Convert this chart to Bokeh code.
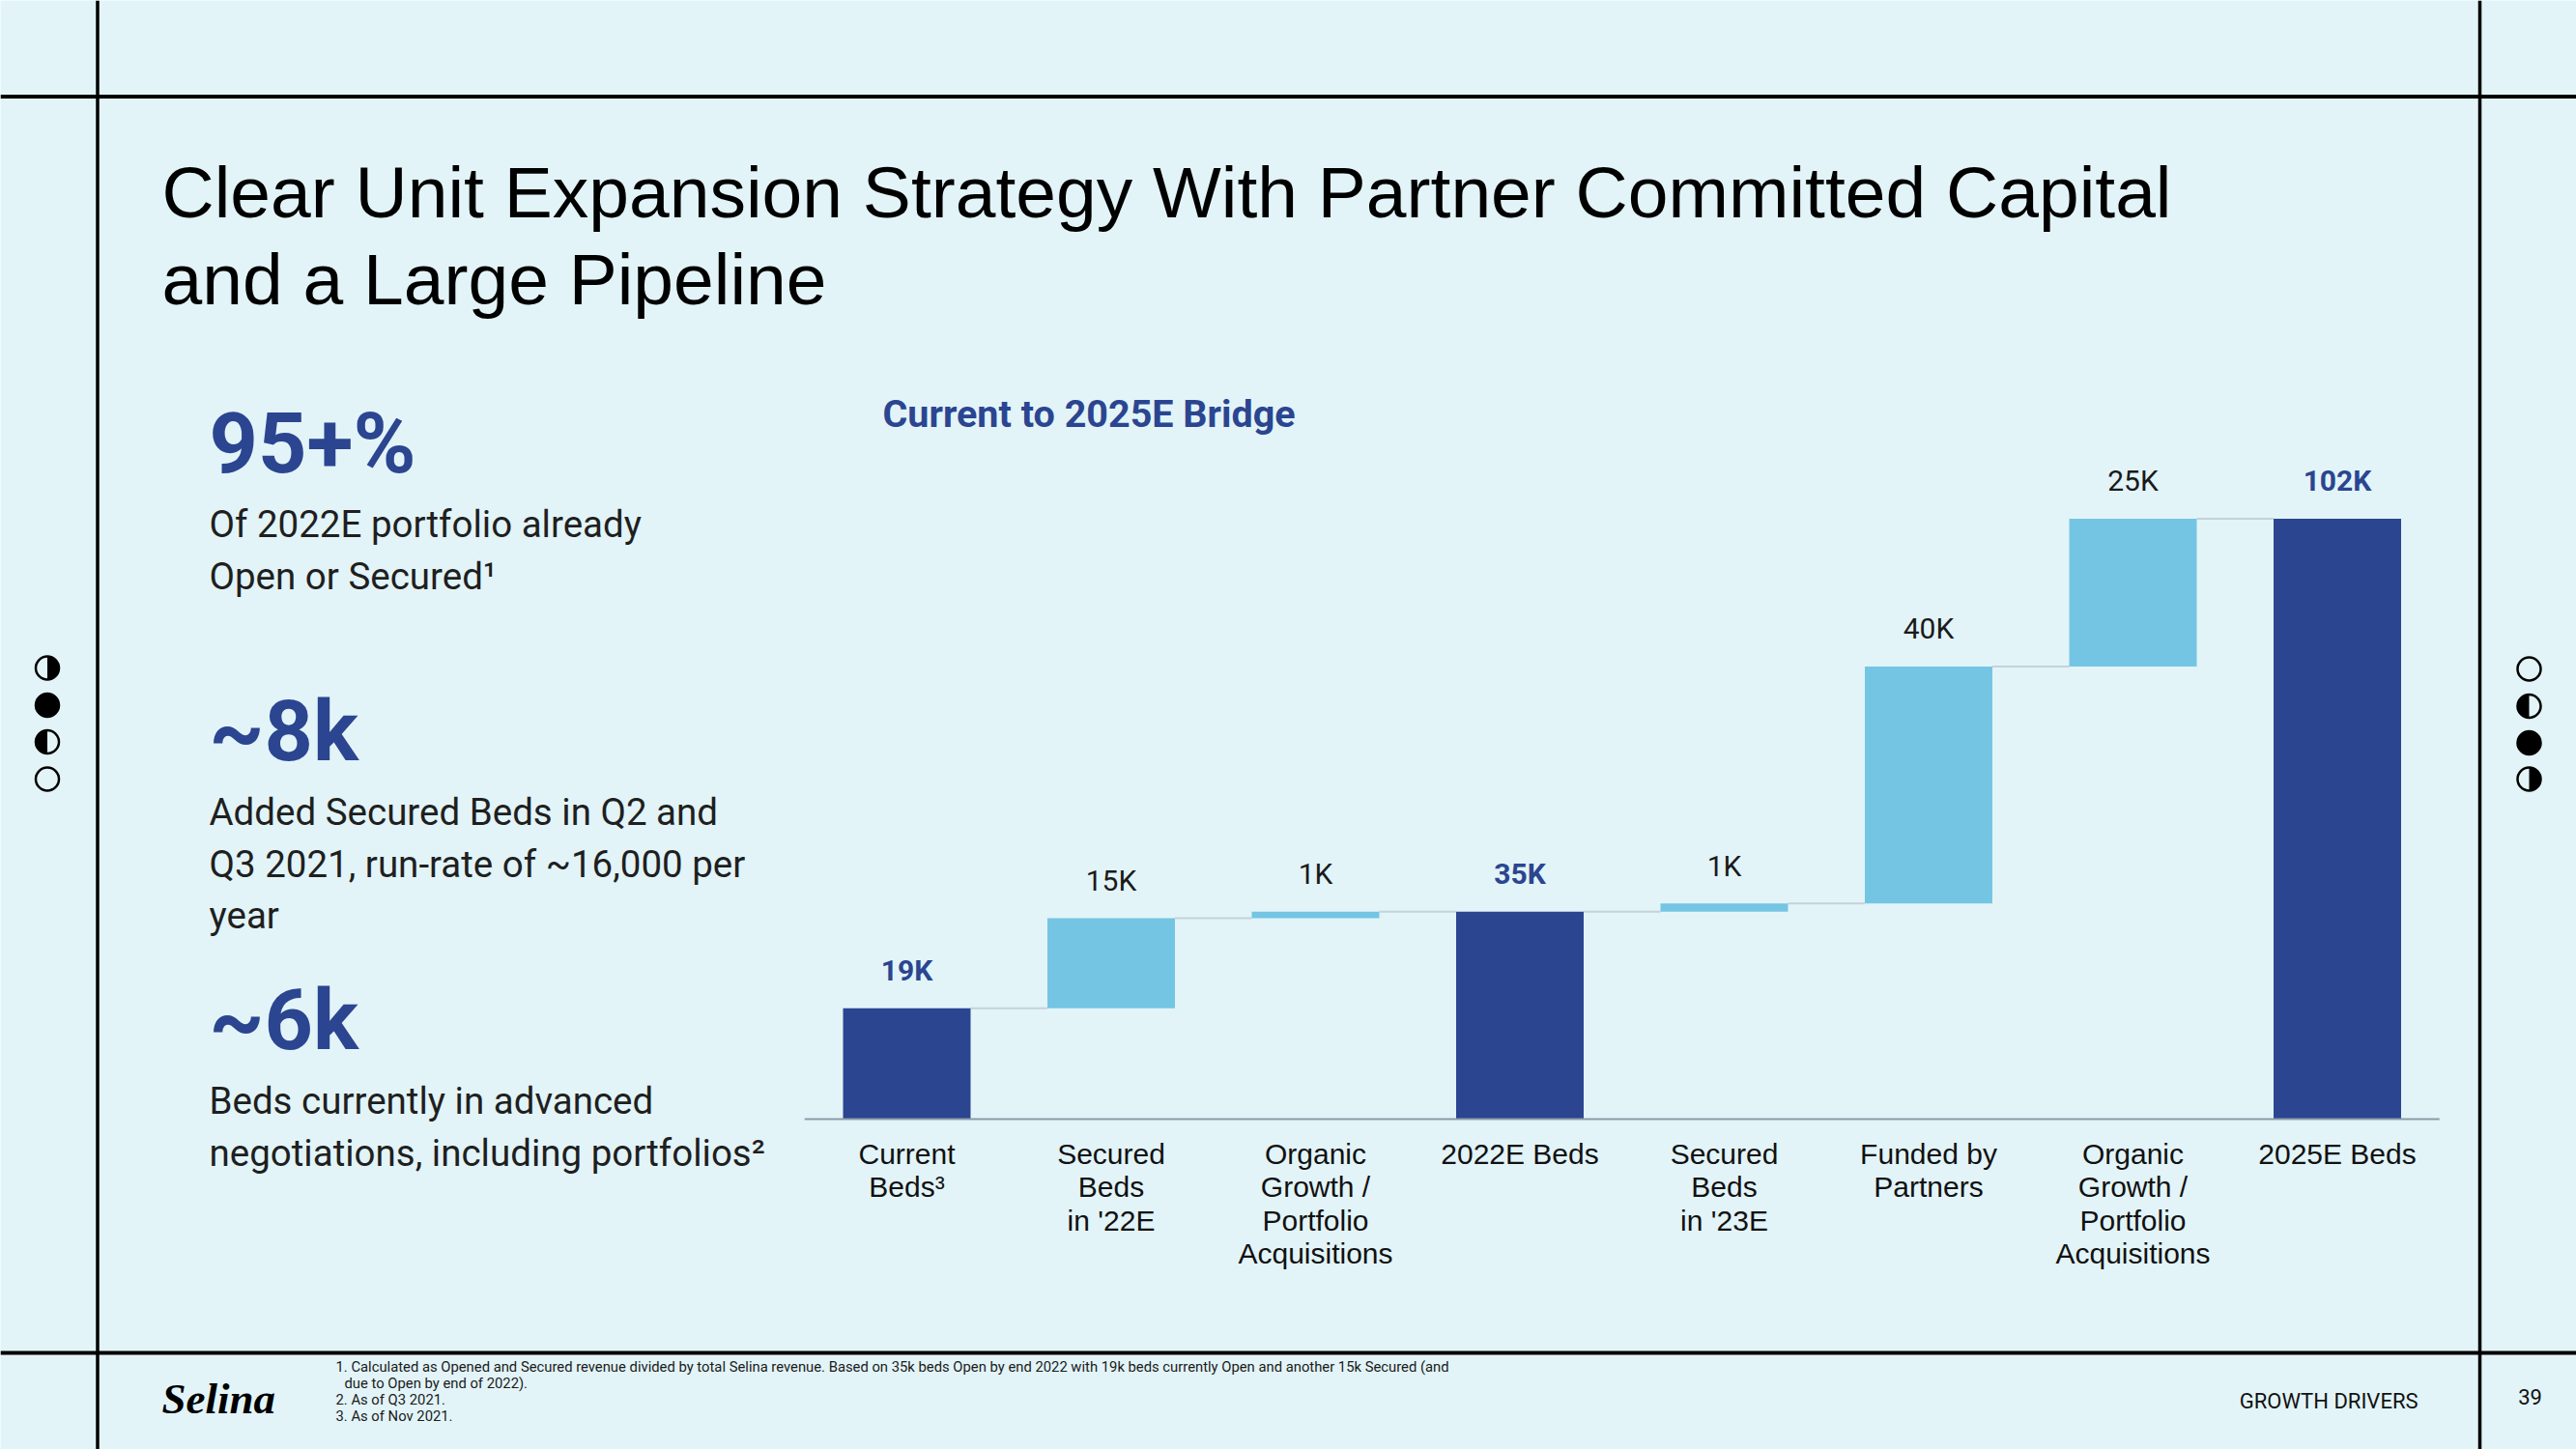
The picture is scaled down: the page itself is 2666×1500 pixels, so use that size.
from bokeh.plotting import figure
from bokeh.models import Range1d, ColumnDataSource
from bokeh.embed import file_html
from bokeh.resources import INLINE
from bokeh.core.properties import value
import math

# ---------------- data ----------------
categories = [
    "Current\nBeds\u00b3",
    "Secured\nBeds\nin '22E",
    "Organic\nGrowth /\nPortfolio\nAcquisitions",
    "2022E Beds",
    "Secured\nBeds\nin '23E",
    "Funded by\nPartners",
    "Organic\nGrowth /\nPortfolio\nAcquisitions",
    "2025E Beds",
]
bar_values = [18.8, 15.3, 1.1, 35.2, 1.4, 40.2, 25.1, 101.9]   # thousand beds
is_total = [True, False, False, True, False, False, False, True]
value_labels = ["19K", "15K", "1K", "35K", "1K", "40K", "25K", "102K"]

title_lines = ["Clear Unit Expansion Strategy With Partner Committed Capital",
               "and a Large Pipeline"]
chart_title = "Current to 2025E Bridge"
kpi_values = ["95+%", "~8k", "~6k"]
kpi_texts = [
    ["Of 2022E portfolio already", "Open or Secured\u00b9"],
    ["Added Secured Beds in Q2 and", "Q3 2021, run-rate of ~16,000 per", "year"],
    ["Beds currently in advanced", "negotiations, including portfolios\u00b2"],
]
footnotes = [
    "1. Calculated as Opened and Secured revenue divided by total Selina revenue. Based on 35k beds Open by end 2022 with 19k beds currently Open and another 15k Secured (and",
    "due to Open by end of 2022).",
    "2. As of Q3 2021.",
    "3. As of Nov 2021.",
]
footer_section = "GROWTH DRIVERS"
page_number = "39"
brand = "Selina"

# ---------------- styling / layout ----------------
BG = "#E2F4F8"
DARK = "#2B4590"
LIGHT = "#74C5E3"
INK = "#111111"

W, H = 2666, 1500

# chart anchors (page pixels)
BAR0_X, PITCH = 938.0, 211.5
BASE_Y, PX_PER_K = 1158.0, 6.1
BAR_W = 0.624


def top_of(baseline, fs, cap=0.711):
    """y of the text box top for a given alphabetic baseline"""
    return baseline - cap * fs - 0.21 * fs


p = figure(width=W, height=H, x_range=Range1d(0, W), y_range=Range1d(H, 0),
           output_backend="svg", toolbar_location=None, min_border=0,
           x_axis_location=None, y_axis_location=None)
p.grid.visible = False
p.background_fill_color = BG
p.border_fill_color = BG
p.outline_line_color = None

p.extra_x_ranges = {"bars": Range1d(-BAR0_X / PITCH, (W - BAR0_X) / PITCH)}
p.extra_y_ranges = {"beds": Range1d((BASE_Y - H) / PX_PER_K, BASE_Y / PX_PER_K)}

# ---------------- frame lines ----------------
p.segment(x0=[0, 0], y0=[99.5, 1400], x1=[W, W], y1=[99.5, 1400], line_color="black", line_width=4)
p.segment(x0=[100.5, 2566], y0=[0, 0], x1=[100.5, 2566], y1=[H, H], line_color="black", line_width=3.5)


# ---------------- side icons ----------------
def icon(x, y, kind):
    r = 12
    if kind == "full":
        p.circle(x=[x], y=[y], radius=r, fill_color="black", line_color="black", line_width=2.5)
        return
    if kind == "right":
        p.wedge(x=[x], y=[y], radius=r, start_angle=-math.pi / 2, end_angle=math.pi / 2,
                fill_color="black", line_color=None)
    elif kind == "left":
        p.wedge(x=[x], y=[y], radius=r, start_angle=math.pi / 2, end_angle=3 * math.pi / 2,
                fill_color="black", line_color=None)
    p.circle(x=[x], y=[y], radius=r, fill_color=None, line_color="black", line_width=2.5)


for yy, k in zip([691, 729.5, 767.5, 806], ["right", "full", "left", "empty"]):
    icon(48.5, yy, k)
for yy, k in zip([692, 730.5, 768.5, 806], ["empty", "left", "full", "right"]):
    icon(2617, yy, k)

# ---------------- title ----------------
p.text(x=[167, 167], y=[top_of(226, 75, 0.716), top_of(316, 75, 0.716)], text=title_lines,
       text_font=value("Liberation Sans"), text_font_size="75px", text_color="black",
       text_baseline="top", text_align="left")

# ---------------- KPI column ----------------
kpi_base = [488, 786, 1085]
for kv, kb, lines in zip(kpi_values, kpi_base, kpi_texts):
    p.text(x=[216], y=[top_of(kb, 88)], text=[kv], text_font=value("Roboto"), text_font_style="bold",
           text_font_size="88px", text_color=DARK, text_baseline="top")
    ys = [top_of(kb + 67 + 53.5 * i, 38.5) for i in range(len(lines))]
    p.text(x=[216] * len(lines), y=ys, text=lines, text_font=value("Roboto"),
           text_font_size="38.5px", text_color="#1f1f1f", text_baseline="top")

# ---------------- chart ----------------
p.text(x=[913], y=[top_of(441, 40)], text=[chart_title], text_font=value("Roboto"), text_font_style="bold",
       text_font_size="39.5px", text_color=DARK, text_baseline="top")

idx = list(range(len(bar_values)))
bottoms, tops = [], []
running = 0.0
for v, t in zip(bar_values, is_total):
    if t:
        bottoms.append(0.0)
        tops.append(v)
        running = v
    else:
        bottoms.append(running)
        tops.append(running + v)
        running += v
colors = [DARK if t else LIGHT for t in is_total]

src = ColumnDataSource(dict(x=idx, bottom=bottoms, top=tops, color=colors, label=value_labels,
                            cat=categories))

# connectors between bars
p.segment(x0=[i + BAR_W / 2 for i in idx[:-1]], y0=tops[:-1],
          x1=[i + 1 - BAR_W / 2 for i in idx[:-1]], y1=tops[:-1],
          line_color="#C6D1DA", line_width=2, x_range_name="bars", y_range_name="beds")

p.vbar(x="x", width=BAR_W, bottom="bottom", top="top", fill_color="color", line_color=None,
       source=src, x_range_name="bars", y_range_name="beds")

# baseline
p.segment(x0=[-0.5], y0=[0], x1=[len(idx) - 0.5], y1=[0], line_color="#8C9BA8", line_width=2,
          x_range_name="bars", y_range_name="beds")

tot_src = ColumnDataSource(dict(x=[i for i in idx if is_total[i]], y=[tops[i] for i in idx if is_total[i]],
                                t=[value_labels[i] for i in idx if is_total[i]]))
del_src = ColumnDataSource(dict(x=[i for i in idx if not is_total[i]], y=[tops[i] for i in idx if not is_total[i]],
                                t=[value_labels[i] for i in idx if not is_total[i]]))
LBL_OFF = -(29 + 0.921 * 30)
p.text(x="x", y="y", text="t", source=tot_src, y_offset=LBL_OFF, text_align="center",
       text_baseline="top", text_font=value("Roboto"), text_font_style="bold",
       text_font_size="30px", text_color=DARK, x_range_name="bars", y_range_name="beds")
p.text(x="x", y="y", text="t", source=del_src, y_offset=LBL_OFF, text_align="center",
       text_baseline="top", text_font=value("Roboto"),
       text_font_size="30px", text_color="#1a1a1a", x_range_name="bars", y_range_name="beds")

# category labels
p.text(x="x", y=0, text="cat", source=src, y_offset=19, text_align="center", text_baseline="top",
       text_font=value("Liberation Sans"), text_font_size="30px", text_line_height=1.05,
       text_color="#111111", x_range_name="bars", y_range_name="beds")

# ---------------- footer ----------------
p.text(x=[167], y=[top_of(1461, 44, 0.66)], text=[brand], text_font=value("Liberation Serif"),
       text_font_style="bold italic", text_font_size="45px", text_color="black", text_baseline="top")
p.text(x=[347, 356, 347, 347], y=[top_of(b, 14.8) for b in [1419, 1436, 1453, 1470]], text=footnotes,
       text_font=value("Roboto"), text_font_size="14.8px", text_color="#1a1a1a", text_baseline="top")
p.text(x=[2502], y=[top_of(1458, 22)], text=[footer_section], text_font=value("Roboto"), text_font_size="22px",
       text_color=INK, text_align="right", text_baseline="top")
p.text(x=[2618], y=[top_of(1458, 22)], text=[page_number], text_font=value("Roboto"), text_font_size="22px",
       text_color=INK, text_align="center", text_baseline="top")

open("out.html", "w").write(file_html(p, INLINE))
